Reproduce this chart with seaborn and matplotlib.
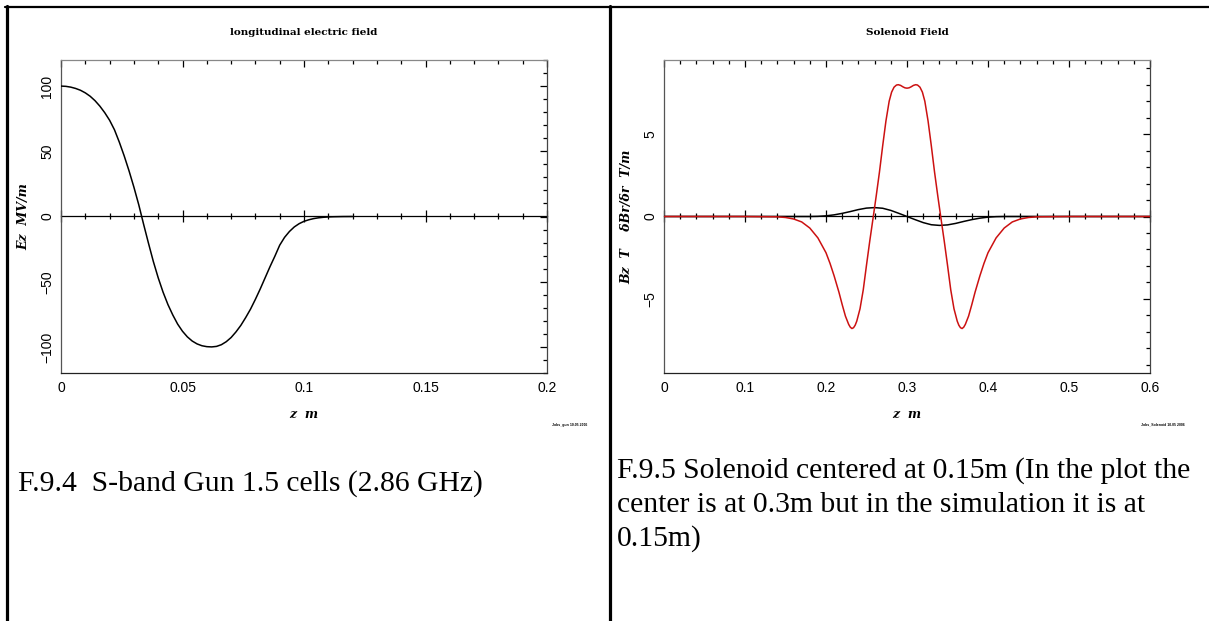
import numpy as np
import pandas as pd
import matplotlib
matplotlib.use('Agg')
import matplotlib.pyplot as plt
from matplotlib.lines import Line2D
from matplotlib.ticker import MultipleLocator, FuncFormatter
import seaborn as sns

# longitudinal electric field of the 1.5 cell gun
gun_z = [0.000, 0.002, 0.004, 0.006, 0.008, 0.010, 0.012, 0.014, 0.016, 0.018,
         0.020, 0.022, 0.024, 0.026, 0.028, 0.030, 0.032, 0.0332, 0.034, 0.036,
         0.038, 0.040, 0.042, 0.044, 0.046, 0.048, 0.050, 0.052, 0.054, 0.056,
         0.058, 0.060, 0.062, 0.064, 0.066, 0.068, 0.070, 0.072, 0.074, 0.076,
         0.078, 0.080, 0.082, 0.084, 0.086, 0.088, 0.090, 0.092, 0.094, 0.096,
         0.098, 0.100, 0.102, 0.104, 0.106, 0.108, 0.110, 0.112, 0.116, 0.120]
gun_ez = [100, 99.8, 99.2, 98.2, 96.8, 94.8, 92.2, 88.8, 84.6, 79.6,
          73.8, 66.5, 57, 46.5, 35, 22.5, 9, 0, -6, -20.5,
          -34.5, -47, -58, -67.5, -75.5, -82.5, -88, -92.3, -95.5, -97.7,
          -99.1, -99.8, -100, -99.6, -98.3, -96, -92.8, -88.5, -83.5, -77.5,
          -71, -63.5, -55.5, -47, -38.5, -30.5, -22, -16, -11.5, -8,
          -5.5, -3.7, -2.5, -1.6, -1.0, -0.6, -0.35, -0.2, -0.05, 0]

# solenoid field, red curve
sol_z = [0.00, 0.10, 0.14, 0.15, 0.16, 0.17, 0.18, 0.19, 0.20, 0.205,
         0.21, 0.216, 0.22, 0.224, 0.228, 0.230, 0.232, 0.234, 0.236, 0.238,
         0.242, 0.246, 0.250, 0.254, 0.2584, 0.262, 0.266, 0.270, 0.274, 0.278,
         0.281, 0.284, 0.287, 0.2893, 0.292, 0.295, 0.2975, 0.300, 0.3025, 0.305,
         0.308, 0.3107, 0.313, 0.316, 0.319, 0.322, 0.326, 0.330, 0.334, 0.338,
         0.3416, 0.346, 0.350, 0.354, 0.358, 0.362, 0.364, 0.366, 0.368, 0.370,
         0.372, 0.376, 0.380, 0.384, 0.39, 0.395, 0.40, 0.41, 0.42, 0.43,
         0.44, 0.45, 0.46, 0.50, 0.60]
sol_red = [0, 0, -0.02, -0.06, -0.15, -0.33, -0.7, -1.3, -2.2, -2.85,
           -3.6, -4.6, -5.35, -6.05, -6.55, -6.72, -6.8, -6.75, -6.6, -6.35,
           -5.6, -4.45, -2.95, -1.5, 0, 1.25, 2.7, 4.3, 5.8, 7.0,
           7.55, 7.85, 7.98, 8.0, 7.96, 7.87, 7.81, 7.79, 7.81, 7.87,
           7.96, 8.0, 7.98, 7.85, 7.55, 7.0, 5.8, 4.3, 2.7, 1.25,
           0, -1.5, -2.95, -4.45, -5.6, -6.35, -6.6, -6.75, -6.8, -6.72,
           -6.55, -6.05, -5.35, -4.6, -3.6, -2.85, -2.2, -1.3, -0.7, -0.33,
           -0.15, -0.06, -0.02, 0, 0]

# solenoid field, black curve
br_z = [0.00, 0.18, 0.19, 0.20, 0.21, 0.22, 0.23, 0.24, 0.25, 0.26,
        0.27, 0.28, 0.29, 0.30, 0.31, 0.32, 0.33, 0.34, 0.35, 0.36,
        0.37, 0.38, 0.39, 0.40, 0.41, 0.42, 0.60]
sol_black = [0, 0, 0.01, 0.04, 0.10, 0.19, 0.30, 0.42, 0.51, 0.54,
             0.50, 0.37, 0.19, 0, -0.19, -0.37, -0.50, -0.54, -0.51, -0.42,
             -0.30, -0.19, -0.10, -0.04, -0.01, 0, 0]

cap_left = 'F.9.4  S-band Gun 1.5 cells (2.86 GHz)'
cap_right = ['F.9.5 Solenoid centered at 0.15m (In the plot the',
             'center is at 0.3m but in the simulation it is at',
             '0.15m)']

sns.set_style('white')
plt.rcParams['font.family'] = ['Liberation Sans', 'DejaVu Sans']
plt.rcParams['text.color'] = 'black'
plt.rcParams['axes.labelcolor'] = 'black'
plt.rcParams['xtick.color'] = 'black'
plt.rcParams['ytick.color'] = 'black'

W, H = 1209, 621
fig = plt.figure(figsize=(W / 100, H / 100), dpi=100)

def fmt(v, pos):
    return f'{v:g}'.replace('-', '\u2212')

def style_axes(ax, xmax, xmaj, xmin, ylim, ymaj, ymin, title, ylabel):
    ax.set_xlim(0, xmax)
    ax.set_ylim(-ylim, ylim)
    for axis, maj, mnr in ((ax.xaxis, xmaj, xmin), (ax.yaxis, ymaj, ymin)):
        axis.set_major_locator(MultipleLocator(maj))
        axis.set_minor_locator(MultipleLocator(mnr))
        axis.set_major_formatter(FuncFormatter(fmt))
    ax.tick_params(which='both', direction='in', top=True, right=True,
                   color='black', labelcolor='black', width=0.9)
    ax.tick_params(which='major', length=5)
    ax.tick_params(which='minor', length=3)
    ax.tick_params(axis='x', labelsize=10, pad=6)
    ax.tick_params(axis='y', labelsize=10, pad=5, labelrotation=90)
    for lab in ax.get_yticklabels():
        lab.set_va('center')
    for side, col in (('top', '#888888'), ('left', '#555555'),
                      ('bottom', '#222222'), ('right', '#444444')):
        ax.spines[side].set_color(col)
        ax.spines[side].set_linewidth(0.9)
    # zero line with crossing ticks
    sec = ax.secondary_xaxis(ylim / (2 * ylim))
    sec.xaxis.set_major_locator(MultipleLocator(xmaj))
    sec.xaxis.set_minor_locator(MultipleLocator(xmin))
    sec.tick_params(which='both', direction='inout', labelbottom=False,
                    labeltop=False, color='black', width=0.9)
    sec.tick_params(which='major', length=8.5)
    sec.tick_params(which='minor', length=5)
    for s in sec.spines.values():
        s.set_color('black')
        s.set_linewidth(0.9)
    ax.set_title(title, pad=18, fontsize=7.5, fontweight='bold',
                 family='DejaVu Serif', color='black')
    ax.set_xlabel('z  m', fontsize=9, style='italic', fontweight='bold',
                  family='DejaVu Serif', labelpad=9)
    ax.set_ylabel(ylabel, fontsize=9, style='italic', fontweight='bold',
                  family='DejaVu Serif', labelpad=7)

ax1 = fig.add_axes([61 / W, (H - 373) / H, 486 / W, 313 / H])
ax2 = fig.add_axes([664 / W, (H - 373) / H, 486 / W, 313 / H])

sns.lineplot(x=gun_z, y=gun_ez, ax=ax1, color='black', linewidth=1.1,
             estimator=None, sort=False, zorder=3)
style_axes(ax1, 0.2, 0.05, 0.01, 120, 50, 10,
           'longitudinal electric field', 'Ez  MV/m')

sns.lineplot(x=br_z, y=sol_black, ax=ax2, color='black', linewidth=1.1,
             estimator=None, sort=False, zorder=3)
sns.lineplot(x=sol_z, y=sol_red, ax=ax2, color='#cc1111', linewidth=1.1,
             estimator=None, sort=False, zorder=4)
style_axes(ax2, 0.6, 0.1, 0.02, 9.5, 5, 1,
           'Solenoid Field', 'Bz  T    \u03b4Br/\u03b4r  T/m')

# tiny run stamps under each plot
fig.text(570 / W, 1 - 425 / H, 'Jobs_gun 10.05 2006', fontsize=2.5,
         fontweight='bold', ha='center', va='center')
fig.text(1163 / W, 1 - 424 / H, 'Jobs_Solenoid 10.05 2006', fontsize=2.5,
         fontweight='bold', ha='center', va='center')

# table borders
fig.add_artist(Line2D([5 / W, 1], [1 - 6.5 / H, 1 - 6.5 / H], color='black',
                      lw=1.6, transform=fig.transFigure))
fig.add_artist(Line2D([6.5 / W, 6.5 / W], [0, 1 - 5.5 / H], color='black',
                      lw=2.3, transform=fig.transFigure))
fig.add_artist(Line2D([609.5 / W, 609.5 / W], [0, 1 - 5.5 / H], color='black',
                      lw=2.3, transform=fig.transFigure))

# captions
fig.text(18 / W, 1 - 484 / H, cap_left, fontsize=21.3, family='Liberation Serif',
         va='center', ha='left')
for i, line in enumerate(cap_right):
    fig.text(617 / W, 1 - (471 + 34 * i) / H, line, fontsize=21.3,
             family='Liberation Serif', va='center', ha='left')

fig.savefig('out.png', dpi=100)
